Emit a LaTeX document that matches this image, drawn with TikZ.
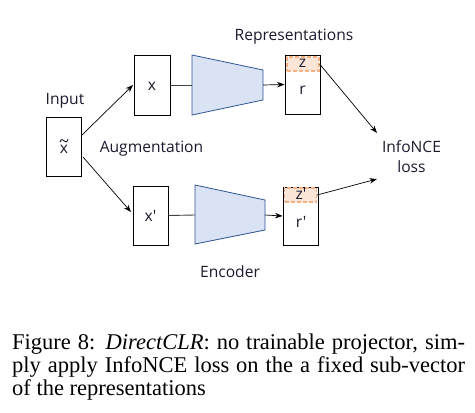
\documentclass[tikz,border=0pt]{standalone}
\usepackage{fontspec}
\setmainfont{Liberation Serif}
\newfontfamily\diag{Open Sans}
\usetikzlibrary{arrows.meta}
\definecolor{encfill}{HTML}{DAE3F3}
\definecolor{encdraw}{HTML}{2F5597}
\definecolor{zfill}{HTML}{FBE5D6}
\definecolor{zdraw}{HTML}{F4B183}
\definecolor{lbl}{HTML}{1A1A2E}
\begin{document}
\begin{tikzpicture}[x=1pt,y=-1pt,
  box/.style={draw=black, line width=0.9pt, inner sep=0pt},
  lab/.style={font=\diag\fontsize{15.6}{20}\selectfont, text=lbl, inner sep=0pt},
  zstrip/.style={draw=zdraw, fill=zfill, dashed, dash pattern=on 4pt off 2pt, line width=1.2pt, inner sep=0pt},
  enc/.style={draw=encdraw, fill=encfill, line width=0.8pt},
  arr/.style={-{Stealth[length=7.5pt,width=5.5pt]}, line width=0.7pt},
  con/.style={line width=0.9pt, draw=black!75}]
\useasboundingbox (0,0) rectangle (475,413);
% boxes
\node[box, minimum width=35pt, minimum height=59pt] (in) at (63.5,146.5) {};
\node[box, minimum width=36pt, minimum height=60pt] (xa) at (152,85) {};
\node[box, minimum width=35pt, minimum height=59pt] (xb) at (150.5,215.5) {};
\node[box, minimum width=35pt, minimum height=59pt] (ra) at (302.5,84.5) {};
\node[box, minimum width=35pt, minimum height=58pt] (rb) at (300.5,216) {};
% z strips
\node[zstrip, minimum width=32pt, minimum height=14pt] (za) at (303,64) {};
\node[zstrip, minimum width=32pt, minimum height=14pt] (zb) at (300.5,195) {};
% texts
\node[lab] (tin) at (64,149.5) {x};
\draw[lbl, line width=0.9pt, line cap=round]
  (60,142) .. controls (61,139) and (63,139) .. (64,140.75)
  .. controls (65,142.5) and (67,142.5) .. (68,139.5);
\node[lab] (txa) at (152,86) {x};
\node[lab] (txb) at (150.5,216) {x'};
\node[lab] (tza) at (302.5,63) {z};
\node[lab] (tra) at (302.5,90) {r};
\node[lab] (tzb) at (301,194) {z'};
\node[lab] (trb) at (301,222) {r'};
\node[lab] (linput) at (65,101) {Input};
\node[lab] (laug) at (151.5,149) {Augmentation};
\node[lab] (lrep) at (294,37) {Representations};
\node[lab] (lenc) at (230,272) {Encoder};
\node[lab, align=center] (loss) at (411.5,157) {InfoNCE\\loss};
% encoders
\coordinate (ea) at (192,85);
\coordinate (eaout) at (263,85);
\coordinate (eb) at (195,215);
\coordinate (ebout) at (265,215);
\draw[enc] (192,55) -- (263,70) -- (263,100) -- (192,115) -- cycle;
\draw[enc] (195,185) -- (265,200) -- (265,230) -- (195,244) -- cycle;
% connectors
\coordinate (ina) at (82,135);
\coordinate (inb) at (83,157);
\coordinate (xaend) at (133,85);
\coordinate (xbend) at (131,212);
\draw[arr] (ina) -- (xaend);
\draw[arr] (inb) -- (xbend);
\draw[con] (xa.east) -- (ea);
\draw[con] (xb.east) -- (eb);
\draw[arr] (eaout) -- (ra.west);
\draw[arr] (ebout) -- (rb.west);
\coordinate (la) at (377,133);
\coordinate (lb) at (377,179);
\draw[arr] (za.east) -- (la);
\draw[arr] (zb.east) -- (lb);
% caption
\node[anchor=base west, inner sep=0pt, text width=453pt, align=justify,
  font=\fontsize{22.5}{23}\selectfont] (cap) at (12,349)
  {Figure 8: \textit{DirectCLR}: no trainable projector, sim-\linebreak ply apply InfoNCE loss on the a fixed sub-vector\linebreak of the representations};
\end{tikzpicture}
\end{document}
